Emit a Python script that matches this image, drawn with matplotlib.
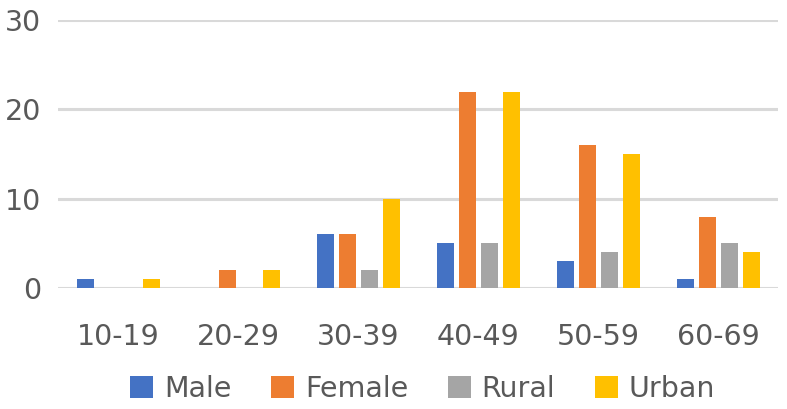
import numpy as np
import matplotlib
matplotlib.use('Agg')
import matplotlib.pyplot as plt

# chart data
age_groups = ['10-19', '20-29', '30-39', '40-49', '50-59', '60-69']
series_names = ['Male', 'Female', 'Rural', 'Urban']
male = [1, 0, 6, 5, 3, 1]
female = [0, 2, 6, 22, 16, 8]
rural = [0, 0, 2, 5, 4, 5]
urban = [1, 2, 10, 22, 15, 4]
colors = ['#4472C4', '#ED7D31', '#A5A5A5', '#FFC000']

plt.rcParams['font.family'] = ['DejaVu Sans']
text_color = '#595959'

fig = plt.figure(figsize=(7.87, 4.09), dpi=100)
ax = fig.add_axes([0.0737, 0.2958, 0.915, 0.6552])

x = np.arange(len(age_groups))
step = 22 / 120
width = 17 / 120
for j, (name, vals) in enumerate(zip(series_names, [male, female, rural, urban])):
    ax.bar(x + (j - 1.5) * step, vals, width=width, color=colors[j],
           label=name, zorder=3)

ax.set_xlim(-0.5, len(age_groups) - 0.5)
ax.set_ylim(0, 30)
ax.set_yticks([0, 10, 20, 30])
ax.set_xticks(x)
ax.set_xticklabels(age_groups)
ax.grid(axis='y', color='#D9D9D9', linewidth=2.2, zorder=0)
ax.set_axisbelow(True)
for s in ax.spines.values():
    s.set_visible(False)
ax.tick_params(axis='both', length=0, labelsize=20.5, labelcolor=text_color)
ax.tick_params(axis='y', pad=12)
ax.tick_params(axis='x', pad=25)

leg = fig.legend(loc='center', bbox_to_anchor=(0.537, 0.049), ncol=4,
                 frameon=False, fontsize=20.5, handlelength=0.8,
                 handleheight=0.8, handletextpad=0.38, columnspacing=1.4,
                 borderpad=0, borderaxespad=0)
for t in leg.get_texts():
    t.set_color(text_color)

fig.savefig('out.png', dpi=100)
